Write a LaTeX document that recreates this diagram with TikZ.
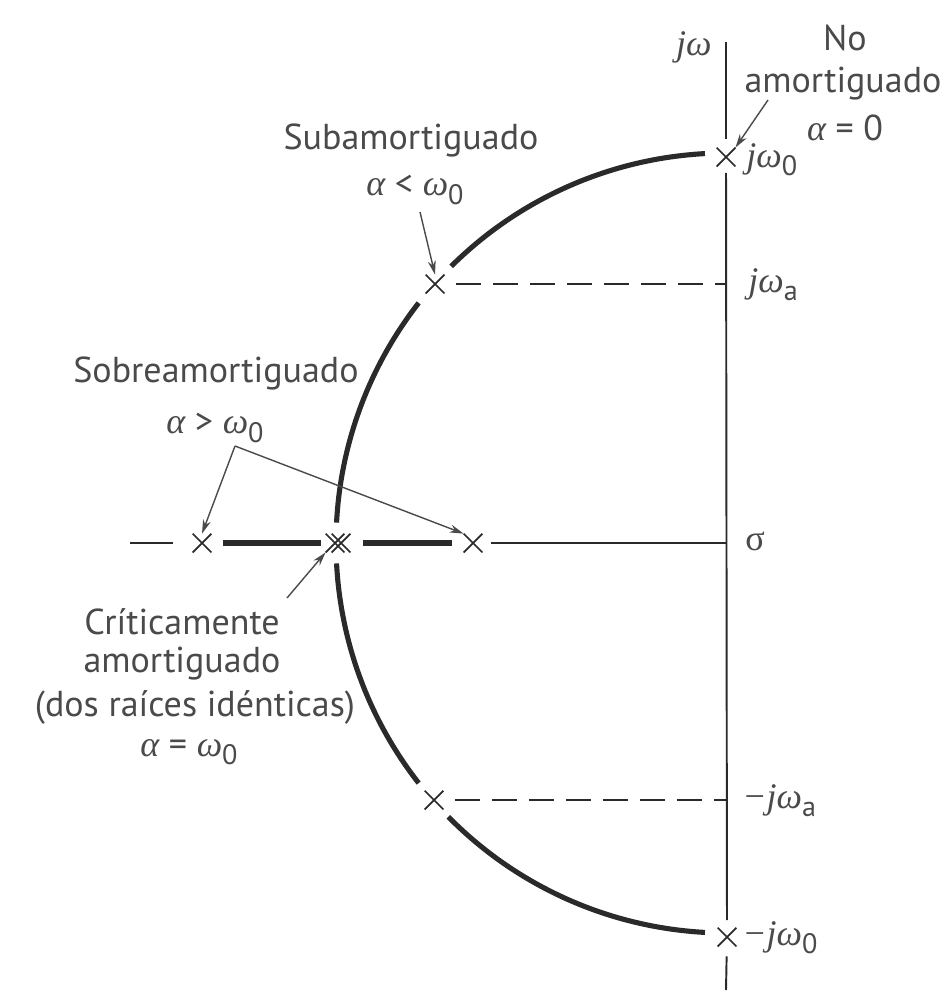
\documentclass[tikz,border=0pt]{standalone}
\usepackage{fontspec}
\setmainfont{PT Sans}
\newfontfamily\mathf{Liberation Serif}
\usetikzlibrary{arrows.meta,shapes.misc}
\definecolor{txtgray}{HTML}{4A4A4A}
\definecolor{linecol}{HTML}{2A2A2A}
\newcommand{\mi}[1]{{\mathf\itshape #1}}
\newcommand{\sbs}[1]{\raisebox{-0.45ex}{\fontsize{16}{16}\selectfont #1}}
\begin{document}
\begin{tikzpicture}[x=0.02cm,y=-0.02cm,
  lbl/.style={font=\fontsize{20.5}{24}\selectfont, text=txtgray, inner sep=0pt},
  crossmark/.style={cross out, draw=linecol, line width=1pt, minimum size=0.34cm, inner sep=0pt},
  axisline/.style={draw=linecol, line width=1.1pt},
  thickline/.style={draw=linecol, line width=2.9pt},
  dashline/.style={draw=linecol, line width=1.1pt, dash pattern=on 0.5cm off 0.24cm},
  arr/.style={draw=linecol!85, line width=0.8pt, -{Stealth[length=0.28cm,width=0.16cm]}}
]
\useasboundingbox (0,0) rectangle (945,998);
\clip (0,0) rectangle (945,998);

% crosses
\node[crossmark] (x0) at (726,157) {};
\node[crossmark] (xa) at (435,284) {};
\node[crossmark] (xma) at (434,800) {};
\node[crossmark] (xm0) at (727,937) {};
\node[crossmark] (s1) at (202,543) {};
\node[crossmark] (c1) at (335,543) {};
\node[crossmark] (c2) at (341,543) {};
\node[crossmark] (s2) at (473,543) {};

% axis coordinates
\coordinate (vtop) at (726,42);
\coordinate (vbot) at (726,990);
\coordinate (hl) at (130,543);
\coordinate (hr) at (726,543);
\coordinate (ya) at (726,284);
\coordinate (yma) at (726,800);

% vertical axis
\draw[axisline, shorten >=0.17cm] (vtop) -- (x0);
\draw[axisline, shorten <=0.13cm, shorten >=0.15cm] (x0) -- (xm0);
\draw[axisline, shorten <=0.2cm] (xm0) -- (vbot);

% horizontal axis
\draw[axisline, shorten >=0.4cm] (hl) -- (s1);
\draw[thickline, shorten <=0.23cm, shorten >=0.1cm] (s1) -- (c1);
\draw[thickline, shorten <=0.25cm, shorten >=0.23cm] (c2) -- (s2);
\draw[axisline, shorten <=0.17cm] (s2) -- (hr);

% dashed lines
\draw[dashline, shorten <=0.23cm] (xa) -- (ya);
\draw[dashline, shorten <=0.23cm] (xma) -- (yma);

% semicircle locus
\draw[thickline] plot[domain=266.9:225.2, samples=50] ({726+390*cos(\x)},{543+390*sin(\x)});
\draw[thickline] plot[domain=218.0:183.0, samples=50] ({726+390*cos(\x)},{543+390*sin(\x)});
\draw[thickline] plot[domain=177.0:142.0, samples=50] ({726+390*cos(\x)},{543+390*sin(\x)});
\draw[thickline] plot[domain=135.4:93.1, samples=50] ({726+390*cos(\x)},{543+390*sin(\x)});

% axis labels
\node[lbl, anchor=east] (jw) at (712,47) {\mi{jω}};
\node[lbl, anchor=west] (jw0) at (746,160) {\mi{jω}\sbs{0}};
\node[lbl, anchor=west] (jwa) at (748,285) {\mi{jω}\sbs{a}};
\node[lbl, anchor=west] (sig) at (745,541) {{\mathf σ}};
\node[lbl, anchor=west] (mjwa) at (742,801) {\mi{−jω}\sbs{a}};
\node[lbl, anchor=west] (mjw0) at (742,938) {\mi{−jω}\sbs{0}};

% No amortiguado
\node[lbl] (no1) at (845,38) {No};
\node[lbl] (no2) at (843,84) {amortiguado};
\node[lbl] (no3) at (845,128) {\mi{α} = 0};
\coordinate (na) at (768,100);
\draw[arr] (na) -- (x0.north east);

% Subamortiguado
\node[lbl] (sub1) at (411,140) {Subamortiguado};
\node[lbl] (sub2) at (415,190) {\mi{α} < \mi{ω}\sbs{0}};
\coordinate (sa) at (420,212);
\draw[arr] (sa) -- (xa.north);

% Sobreamortiguado
\node[lbl] (sob1) at (216,373) {Sobreamortiguado};
\node[lbl] (sob2) at (215,428) {\mi{α} > \mi{ω}\sbs{0}};
\coordinate (sv) at (235,446);
\draw[arr] (sv) -- (s1.north);
\draw[arr] (sv) -- (s2.north west);

% Criticamente amortiguado
\node[lbl] (cr1) at (182,622) {Críticamente};
\node[lbl] (cr2) at (182,664) {amortiguado};
\node[lbl] (cr3) at (195,707) {(dos raíces idénticas)};
\node[lbl] (cr4) at (189,752) {\mi{α} = \mi{ω}\sbs{0}};
\coordinate (cv) at (287,598);
\draw[arr] (cv) -- (c1.south west);
\end{tikzpicture}
\end{document}
